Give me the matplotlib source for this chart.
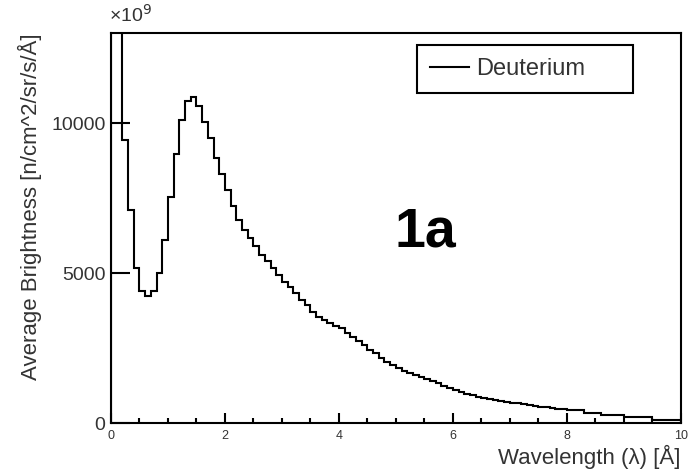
import numpy as np
import matplotlib
matplotlib.use("Agg")
import matplotlib.pyplot as plt

# Histogram data: 100 bins of 0.1 A from 0 to 10 A (values in units of 1e9)
bin_width = 0.1
n_bins = 100
brightness = [
    20000, 16000, 9450, 7110, 5170, 4390, 4240, 4390, 5000, 6110,
    7530, 8980, 10110, 10720, 10870, 10580, 10050, 9500, 8830, 8310,
    7780, 7240, 6780, 6440, 6170, 5890, 5610, 5390, 5170, 4940,
    4720, 4550, 4330, 4110, 3940, 3720, 3550, 3440, 3330, 3250,
    3170, 3020, 2890, 2750, 2610, 2440, 2330, 2190, 2050, 1940,
    1830, 1750, 1670, 1610, 1550, 1470, 1400, 1330, 1250, 1190,
    1110, 1050, 990, 950, 890, 850, 810, 780, 750, 720,
    690, 660, 640, 610, 570, 540, 530, 500, 470, 460,
    440, 440, 440, 350, 350, 350, 280, 280, 280, 280,
    220, 220, 220, 220, 220, 110, 110, 110, 110, 110,
]
series_name = "Deuterium"
x_ticks = [0, 2, 4, 6, 8, 10]
y_ticks = [0, 5000, 10000]

edges = np.arange(n_bins + 1) * bin_width

plt.rcParams["font.family"] = ["Liberation Sans", "DejaVu Sans"]

fig = plt.figure(figsize=(6.89, 4.70), dpi=100)
ax = fig.add_axes([0.1611, 0.0994, 0.8269, 0.8304])

ax.stairs(brightness, edges, color="black", linewidth=1.5, label=series_name)

ax.set_xlim(0, 10)
ax.set_ylim(0, 13000)

for side in ax.spines.values():
    side.set_linewidth(1.5)
    side.set_color("black")

ax.set_xticks(x_ticks)
ax.set_xticklabels([str(t) for t in x_ticks], fontsize=9, color="#333333")
ax.set_xticks(np.arange(0, 10.01, 0.5), minor=True)
ax.set_yticks(y_ticks)
ax.set_yticklabels([str(t) for t in y_ticks], fontsize=14, color="#333333")
ax.tick_params(axis="x", which="major", direction="in", length=7, width=1.5, pad=5)
ax.tick_params(axis="x", which="minor", direction="in", length=3.5, width=1.5)
ax.tick_params(axis="y", which="major", direction="in", length=13.5, width=1.5, pad=4)

ax.set_xlabel("Wavelength (\u03bb) [\u00c5]", fontsize=16, color="#333333")
ax.xaxis.set_label_coords(1.0, -0.056)
ax.xaxis.label.set_horizontalalignment("right")
ax.set_ylabel("Average Brightness [n/cm^2/sr/s/\u00c5]", fontsize=16, color="#333333")
ax.yaxis.set_label_coords(-0.121, 1.0)
ax.yaxis.label.set_horizontalalignment("right")

fig.text(0.158, 0.945, "\u00d710$^{9}$", fontsize=14, color="#333333",
         ha="left", va="bottom")

ax.text(0.552, 0.49, "1a", transform=ax.transAxes, fontsize=40,
        fontweight="bold", ha="center", va="center", color="black")

leg = ax.legend(loc="center", bbox_to_anchor=(0.537, 0.844, 0.379, 0.125),
                mode="expand", fontsize=17, frameon=True, fancybox=False,
                framealpha=1, edgecolor="black", handlelength=1.65,
                handletextpad=0.3, borderpad=0.55, borderaxespad=0)
leg.get_frame().set_linewidth(1.5)
for t in leg.get_texts():
    t.set_color("#333333")

fig.savefig("out.png", dpi=100)
